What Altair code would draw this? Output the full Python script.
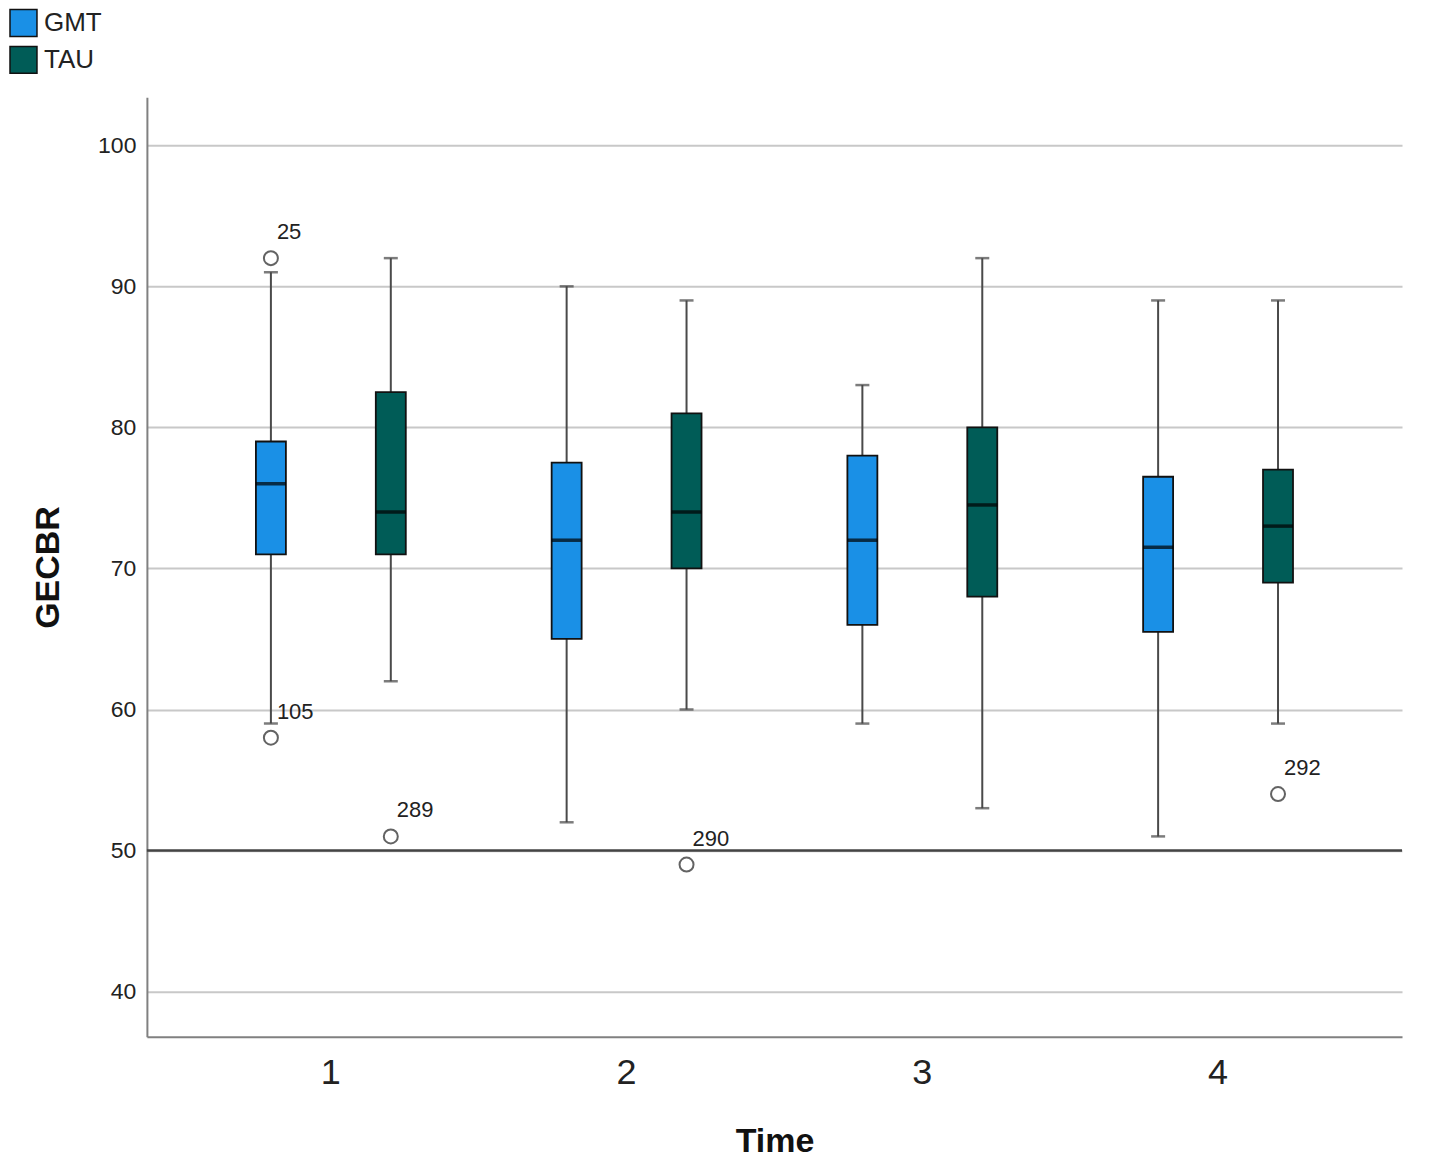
import altair as alt
import pandas as pd

# ---- data ----
times = ["1", "1", "2", "2", "3", "3", "4", "4"]
groups = ["GMT", "TAU", "GMT", "TAU", "GMT", "TAU", "GMT", "TAU"]
whisker_low = [59, 62, 52, 60, 59, 53, 51, 59]
q1 = [71, 71, 65, 70, 66, 68, 65.5, 69]
median = [76, 74, 72, 74, 72, 74.5, 71.5, 73]
q3 = [79, 82.5, 77.5, 81, 78, 80, 76.5, 77]
whisker_high = [91, 92, 90, 89, 83, 92, 89, 89]

out_time = ["1", "1", "1", "2", "4"]
out_group = ["GMT", "GMT", "TAU", "TAU", "TAU"]
out_value = [92, 58, 51, 49, 54]
out_label = ["25", "105", "289", "290", "292"]

group_names = ["GMT", "TAU"]
group_colors = ["#1a90e6", "#005c57"]
y_ticks = [40, 50, 60, 70, 80, 90, 100]
ref_value = [50]

FONT = "Liberation Sans"

boxes = pd.DataFrame({
    "Time": times, "Group": groups, "low": whisker_low, "q1": q1,
    "median": median, "q3": q3, "high": whisker_high,
})
outs = pd.DataFrame({"Time": out_time, "Group": out_group,
                     "value": out_value, "label": out_label})
ref = pd.DataFrame({"v": ref_value})

x_enc = alt.X("Time:N", title="Time",
              scale=alt.Scale(paddingInner=0, paddingOuter=0.122),
              axis=alt.Axis(labelAngle=0, labelFontSize=36, labelFont=FONT,
                            labelColor="#222", labelPadding=19, ticks=False,
                            domainColor="#808080", domainWidth=2,
                            titleFont=FONT, titleFontSize=34, titleFontWeight="bold",
                            titleColor="#111", titlePadding=34, grid=False))
xo_enc = alt.XOffset("Group:N", scale=alt.Scale(paddingOuter=0.2333, paddingInner=0))
y_scale = alt.Scale(domain=[36.8, 103.4], nice=False, zero=False)
y_axis = alt.Axis(values=y_ticks, labelFontSize=23, labelFont=FONT, labelColor="#222",
                  labelPadding=11, ticks=False, domainColor="#808080", domainWidth=2,
                  gridColor="#c8c8c8", gridWidth=2, title="GECBR", titleFont=FONT,
                  titleFontSize=34, titleFontWeight="bold", titleColor="#111",
                  titlePadding=32)

base = alt.Chart(boxes)

whiskers = base.mark_rule(color="#4a4a4a", strokeWidth=2).encode(
    x=x_enc, xOffset=xo_enc,
    y=alt.Y("low:Q", scale=y_scale, axis=y_axis), y2="high:Q")

caps_low = base.mark_tick(color="#444444", size=14, thickness=2.5).encode(
    x=x_enc, xOffset=xo_enc, y=alt.Y("low:Q", scale=y_scale))
caps_high = base.mark_tick(color="#444444", size=14, thickness=2.5).encode(
    x=x_enc, xOffset=xo_enc, y=alt.Y("high:Q", scale=y_scale))

bars = base.mark_bar(size=30, stroke="#111111", strokeWidth=1.8, opacity=1).encode(
    x=x_enc, xOffset=xo_enc,
    y=alt.Y("q1:Q", scale=y_scale), y2="q3:Q",
    color=alt.Color("Group:N", scale=alt.Scale(domain=group_names, range=group_colors),
                    legend=alt.Legend(title=None, orient="none", legendX=-138, legendY=-89,
                                      symbolType="square", symbolSize=729,
                                      symbolStrokeColor="#111111", symbolStrokeWidth=1.5,
                                      symbolOpacity=1, labelFont=FONT, labelFontSize=26,
                                      labelColor="#222", labelOffset=6, rowPadding=4,
                                      padding=0)))

medians = base.mark_tick(color="#000000", size=30, thickness=3.5).encode(
    x=x_enc, xOffset=xo_enc, y=alt.Y("median:Q", scale=y_scale))

ref_line = alt.Chart(ref).mark_rule(color="#444444", strokeWidth=2.5).encode(
    y=alt.Y("v:Q", scale=y_scale))

out_pts = alt.Chart(outs).mark_point(shape="circle", size=196, color="#222222",
                                     strokeWidth=2, filled=False).encode(
    x=x_enc, xOffset=xo_enc, y=alt.Y("value:Q", scale=y_scale))

out_txt = alt.Chart(outs).mark_text(align="left", baseline="middle", dx=6, dy=-26,
                                    font=FONT, fontSize=22, color="#222").encode(
    x=x_enc, xOffset=xo_enc, y=alt.Y("value:Q", scale=y_scale), text="label:N")

chart = alt.layer(whiskers, ref_line, caps_low, caps_high, bars, medians,
                  out_pts, out_txt).properties(
    width=1256, height=940,
    background="white",
    autosize=alt.AutoSizeParams(type="none"),
    padding={"left": 139, "top": 89, "right": 20, "bottom": 125},
).configure_view(strokeWidth=0, stroke=None)

chart.save("out.html", embed_options={"renderer": "svg", "actions": False})
